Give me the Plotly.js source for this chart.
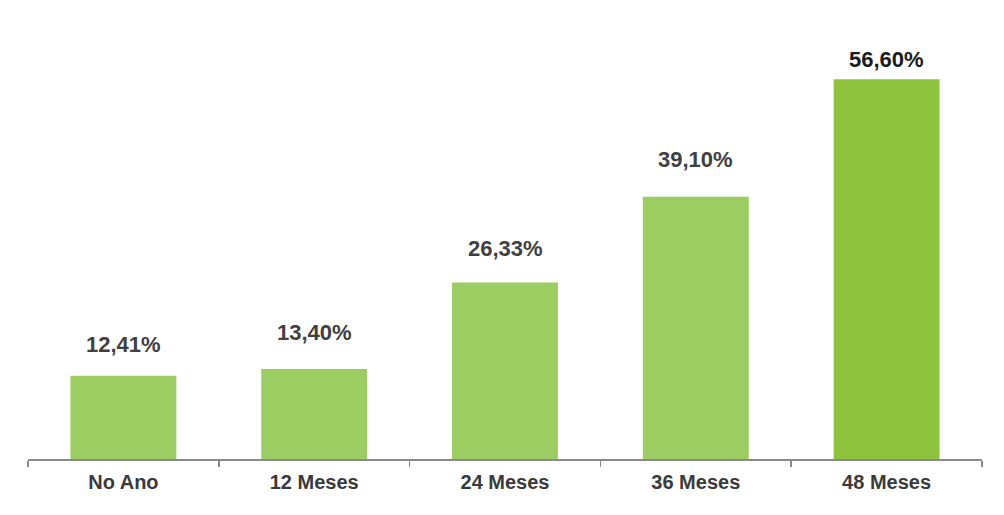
<!DOCTYPE html>
<html>
<head>
<meta charset="utf-8">
<script src="https://cdn.plot.ly/plotly-3.0.1.min.js"></script>
<style>
  html, body { margin: 0; padding: 0; background: #fff; }
  #chart { width: 1004px; height: 515px; }
</style>
</head>
<body>
<div id="chart"></div>
<script>
var categories = ['No Ano', '12 Meses', '24 Meses', '36 Meses', '48 Meses'];
var values = [12.41, 13.40, 26.33, 39.10, 56.60];
var labels = ['12,41%', '13,40%', '26,33%', '39,10%', '56,60%'];
var barColors = ['#9ccd62', '#9ccd62', '#9ccd62', '#9ccd62', '#8dc33c'];
var labelColors = ['#404040', '#404040', '#404040', '#404040', '#1a1a1a'];
// gap between bar top and its label (px), as in the original
var labelShift = [31, 37, 34, 37, 20];

var trace = {
  x: categories,
  y: values,
  type: 'bar',
  width: 0.555,
  marker: { color: barColors },
  hoverinfo: 'none'
};

var annotations = categories.map(function (c, i) {
  return {
    x: c,
    y: values[i],
    text: labels[i],
    showarrow: false,
    yanchor: 'middle',
    yshift: labelShift[i],
    font: { family: 'Liberation Sans, Arial, sans-serif', size: 22, color: labelColors[i], weight: 'bold' }
  };
});

var layout = {
  width: 1004,
  height: 515,
  margin: { l: 28, r: 22, t: 23, b: 56 },
  paper_bgcolor: '#ffffff',
  plot_bgcolor: '#ffffff',
  showlegend: false,
  xaxis: {
    type: 'category',
    range: [-0.5, 4.5],
    showline: true,
    linecolor: '#8a8a8a',
    linewidth: 1.5,
    ticks: 'outside',
    tickson: 'boundaries',
    ticklen: 6,
    tickcolor: '#8a8a8a',
    tickwidth: 1.5,
    ticklabelstandoff: 4,
    showgrid: false,
    tickfont: { family: 'Liberation Sans, Arial, sans-serif', size: 20, color: '#3a3a3a', weight: 'bold' },
    fixedrange: true
  },
  yaxis: {
    range: [0, 65],
    visible: false,
    showgrid: false,
    zeroline: false,
    fixedrange: true
  },
  annotations: annotations,
  bargap: 0.445
};

Plotly.newPlot('chart', [trace], layout, { displayModeBar: false, staticPlot: true });
</script>
</body>
</html>
